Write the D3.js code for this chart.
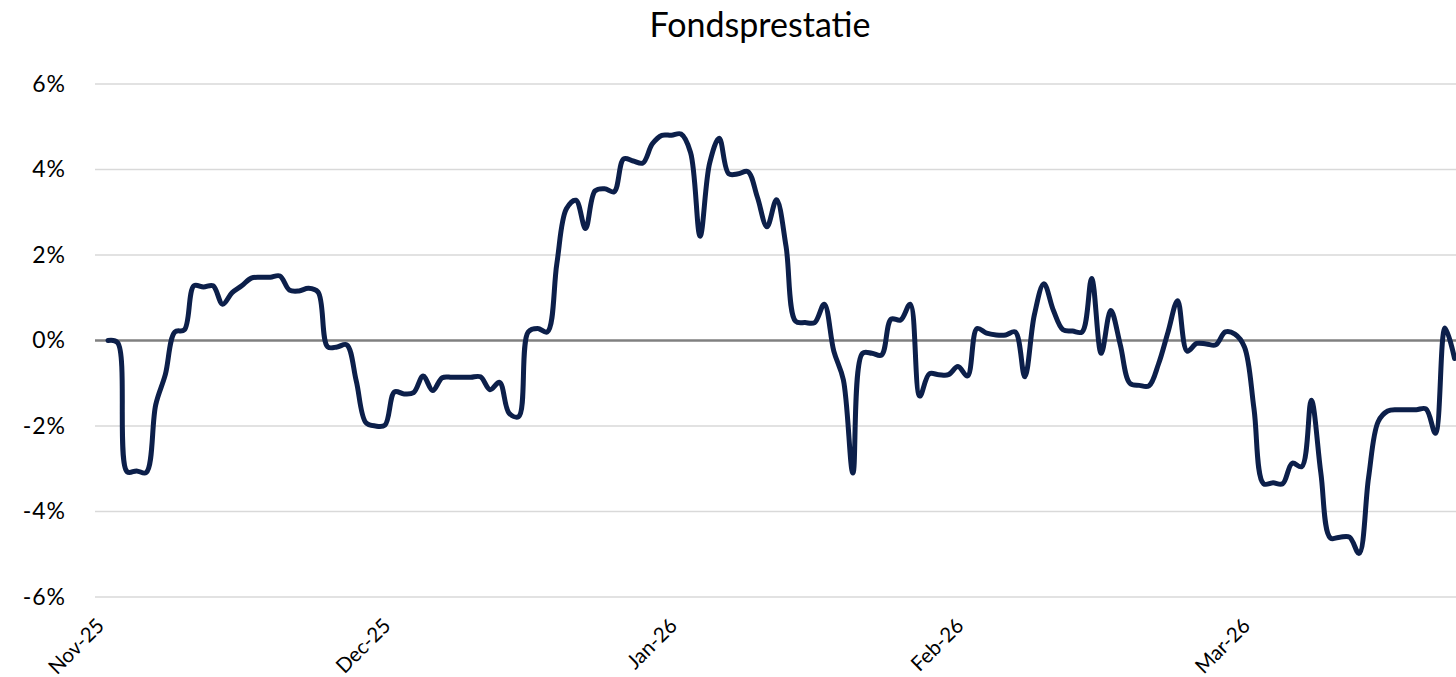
<!DOCTYPE html>
<html>
<head>
<meta charset="utf-8">
<script src="https://cdn.jsdelivr.net/npm/d3@7"></script>
<style>
  html, body { margin: 0; padding: 0; background: #ffffff; }
  svg { display: block; }
</style>
</head>
<body>
<svg id="chart" width="1456" height="677"></svg>
<script>
// ---- Data ----
const title = "Fondsprestatie";
const values = [
  0.0, -0.05, -3.07, -3.05, -3.09, -1.5, -0.8, 0.2, 0.25, 1.28,
  1.25, 1.28, 0.85, 1.12, 1.28, 1.46, 1.48, 1.48, 1.51, 1.18,
  1.16, 1.22, 1.13, -0.15, -0.15, -0.1, -0.95, -1.92, -2.0, -1.98,
  -1.2, -1.25, -1.22, -0.83, -1.17, -0.87, -0.86, -0.86, -0.86, -0.85,
  -1.15, -0.98, -1.7, -1.78, 0.2, 0.28, 0.2, 1.8, 3.08, 3.28,
  2.62, 3.5, 3.55, 3.48, 4.25, 4.2, 4.15, 4.6, 4.8, 4.8,
  4.83, 4.4, 2.44, 4.15, 4.73, 3.9, 3.9, 3.95, 3.35, 2.66,
  3.29, 2.2, 0.45, 0.42, 0.42, 0.85, -0.25, -0.92, -3.1, -0.3,
  -0.3, -0.34, 0.5, 0.48, 0.85, -1.3, -0.78, -0.8, -0.8, -0.61,
  -0.83, 0.28, 0.17, 0.13, 0.13, 0.2, -0.85, 0.6, 1.33, 0.7,
  0.25, 0.22, 0.2, 1.45, -0.3, 0.7, -0.1, -1.0, -1.05, -1.06,
  -0.55, 0.2, 0.93, -0.25, -0.07, -0.08, -0.1, 0.2, 0.15, -0.15,
  -1.6, -3.35, -3.33, -3.35, -2.87, -2.95, -1.4, -3.1, -4.62, -4.6,
  -4.6, -4.98, -3.2, -1.9, -1.65, -1.62, -1.62, -1.62, -1.6, -2.17,
  0.29, -0.42
];
const tickIndex = [0, 30, 60, 90, 120];
const tickLabels = ["Nov-25", "Dec-25", "Jan-26", "Feb-26", "Mar-26"];
const yTicks = [-6, -4, -2, 0, 2, 4, 6];

// ---- Layout ----
const W = 1456, H = 677;
const plotLeft = 95, plotRight = 1456;
const step = 9.55;
const x0 = 108;
const FONT = "Lato, 'Open Sans', 'DejaVu Sans', sans-serif";

const svg = d3.select("#chart");

const x = d3.scaleLinear()
  .domain([0, values.length - 1])
  .range([x0, x0 + step * (values.length - 1)]);
const y = d3.scaleLinear().domain([-6, 6]).range([597, 84]);

// Title
svg.append("text")
  .attr("x", 760).attr("y", 37)
  .attr("text-anchor", "middle")
  .style("font-family", FONT)
  .style("font-size", "34px")
  .attr("fill", "#000")
  .text(title);

// Gridlines
svg.append("g").selectAll("line")
  .data(yTicks.filter(d => d !== 0))
  .join("line")
  .attr("x1", plotLeft).attr("x2", plotRight)
  .attr("y1", d => y(d)).attr("y2", d => y(d))
  .attr("stroke", "#d9d9d9")
  .attr("stroke-width", 1.6);

// Zero line (category axis line)
svg.append("line")
  .attr("x1", plotLeft).attr("x2", plotRight)
  .attr("y1", y(0)).attr("y2", y(0))
  .attr("stroke", "#808080")
  .attr("stroke-width", 2.6);

// Y axis labels
const yAxis = svg.append("g")
  .attr("transform", `translate(${plotLeft},0)`)
  .call(d3.axisLeft(y).tickValues(yTicks).tickFormat(d => d + "%").tickSize(0).tickPadding(29));
yAxis.select(".domain").remove();
yAxis.selectAll("text")
  .style("font-family", FONT)
  .style("font-size", "23px")
  .style("letter-spacing", "1px")
  .attr("fill", "#000");

// X axis labels (rotated)
const xAxis = svg.append("g")
  .call(d3.axisBottom(x).tickValues(tickIndex).tickFormat((d, i) => tickLabels[i]).tickSize(0));
xAxis.select(".domain").remove();
xAxis.selectAll("text")
  .attr("x", 0).attr("y", 0).attr("dy", 0)
  .attr("text-anchor", "end")
  .attr("transform", "translate(-3,627) rotate(-45)")
  .style("font-family", FONT)
  .style("font-size", "20.5px")
  .attr("fill", "#000");

// Line
const line = d3.line()
  .x((d, i) => x(i))
  .y(d => y(d))
  .curve(d3.curveCatmullRom.alpha(0.5));

svg.append("path")
  .datum(values)
  .attr("d", line)
  .attr("fill", "none")
  .attr("stroke", "#0c1f4a")
  .attr("stroke-width", 5)
  .attr("stroke-linejoin", "round")
  .attr("stroke-linecap", "round");
</script>
</body>
</html>
